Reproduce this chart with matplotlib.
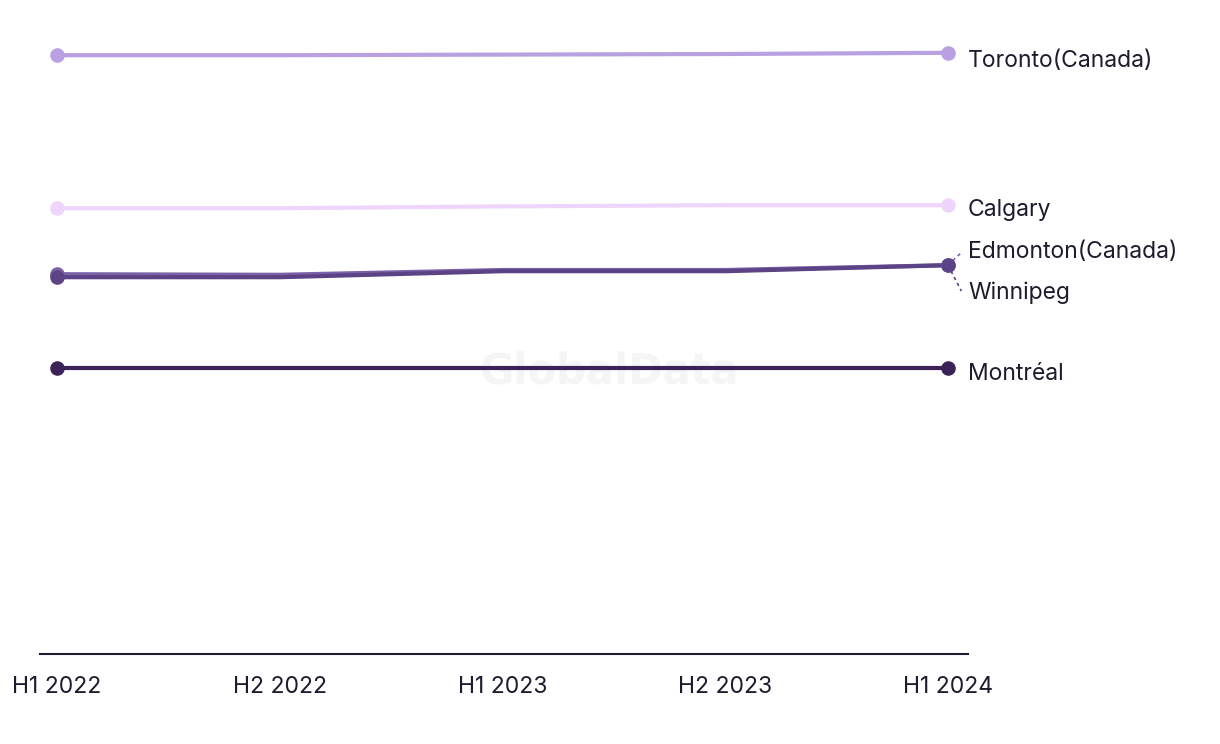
import numpy as np
import matplotlib.pyplot as plt

plt.rcParams['font.family'] = ['Inter', 'DejaVu Sans']

### DATA
periods = ['H1 2022', 'H2 2022', 'H1 2023', 'H2 2023', 'H1 2024']
cities = ['Toronto(Canada)', 'Calgary', 'Edmonton(Canada)', 'Winnipeg', 'Montréal']
toronto = [99.8, 99.8, 99.9, 100.0, 100.2]
calgary = [74.3, 74.3, 74.6, 74.8, 74.8]
edmonton = [63.3, 63.2, 64.0, 64.0, 64.8]
winnipeg = [62.8, 62.8, 63.8, 63.8, 64.8]
montreal = [47.7, 47.7, 47.7, 47.7, 47.7]

series = [toronto, calgary, edmonton, winnipeg, montreal]
colors = ['#B9A0E0', '#EFD5FB', '#7B62A8', '#5B4385', '#3B2357']
# label y offsets (data units) so the end labels don't overlap
label_off = [-1.3, -0.8, 2.2, -4.6, -1.0]

fig = plt.figure(figsize=(12.2, 7.44), dpi=100)
ax = fig.add_axes([40/1220, 90/744, 928/1220, 634/744])

x = np.arange(len(periods))
for vals, col in zip(series, colors):
    ax.plot(x, vals, color=col, lw=3, solid_capstyle='round', zorder=3)
    ax.scatter([x[0], x[-1]], [vals[0], vals[-1]], s=110, color=col, zorder=4, lw=0)

for name, vals, col, off in zip(cities, series, colors, label_off):
    ax.text(4.09, vals[-1] + off, name, fontsize=16.5, color='#1c1c2e',
            va='center', ha='left', clip_on=False)

# dashed leaders for the two overlapping labels
ax.plot([4.0, 4.06], [64.8, 66.9], ls=(0, (2, 2)), color='#7B62A8', lw=1.2, clip_on=False)
ax.plot([4.0, 4.06], [64.8, 60.5], ls=(0, (2, 2)), color='#5B4385', lw=1.2, clip_on=False)

# watermark
ax.text((610 - 40) / 928, (654 - 372) / 634, 'GlobalData', transform=ax.transAxes,
        fontsize=30, fontweight='bold', color='#f5f5f5', ha='center', va='center',
        family='DejaVu Sans', zorder=1)

ax.set_xlim(-17/222.75, 4 + 20/222.75)
ax.set_ylim(0, 634/6)
ax.set_xticks(x)
ax.set_xticklabels(periods, fontsize=16.5, color='#1c1c2e')
ax.tick_params(axis='x', length=0, pad=16)
ax.set_yticks([])
for s in ['top', 'right', 'left']:
    ax.spines[s].set_visible(False)
ax.spines['bottom'].set_color('#1c1c2e')
ax.spines['bottom'].set_linewidth(1.5)

fig.savefig('out.png', dpi=100)
